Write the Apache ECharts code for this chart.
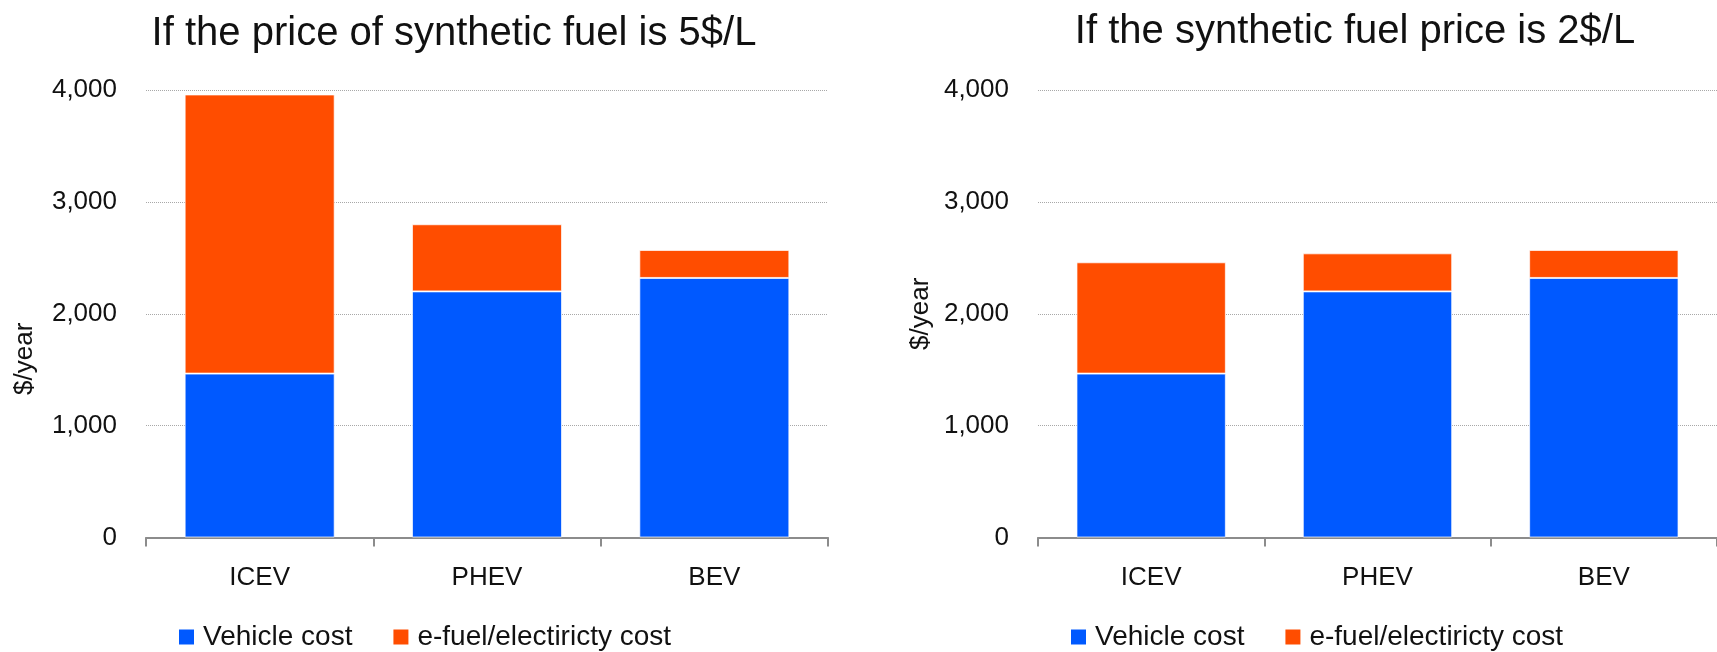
<!DOCTYPE html>
<html>
<head>
<meta charset="utf-8">
<script src="https://cdn.jsdelivr.net/npm/echarts@6/dist/echarts.min.js"></script>
<style>
  html, body { margin: 0; padding: 0; background: #fff; }
  #main { width: 1717px; height: 652px; }
</style>
</head>
<body>
<div id="main"></div>
<script>
  var categories = ['ICEV', 'PHEV', 'BEV']
  var seriesNames = ['Vehicle cost', 'e-fuel/electiricty cost']
  var titles = ['If the price of synthetic fuel is 5$/L', 'If the synthetic fuel price is 2$/L']
  // $/year
  var vehicleCost5 = [1465, 2200, 2320]
  var fuelCost5 = [2495, 600, 250]
  var vehicleCost2 = [1465, 2200, 2320]
  var fuelCost2 = [995, 340, 250]
  var yMin = 0
  var yMax = 4000
  var yStep = 1000

  var font = '"Liberation Sans", Arial, sans-serif'
  var txt = '#111'
  var blue = '#0059FF'
  var orange = '#FF4D00'

  var myChart = echarts.init(document.getElementById('main'))

  function xAx (idx) {
    return {
      type: 'category',
      gridIndex: idx,
      data: categories,
      axisLine: { lineStyle: { color: '#8c8c8c', width: 2 } },
      axisTick: { show: true, length: 9, lineStyle: { color: '#8c8c8c', width: 2 } },
      axisLabel: { color: txt, fontSize: 26, fontFamily: font, margin: 27 }
    }
  }
  function yAx (idx, gap, pad) {
    return {
      type: 'value',
      gridIndex: idx,
      min: yMin,
      max: yMax,
      interval: yStep,
      name: '$/year',
      nameLocation: 'middle',
      nameRotate: 90,
      nameGap: gap,
      nameTextStyle: { color: txt, fontSize: 26, fontFamily: font, padding: pad },
      axisLine: { show: false },
      axisTick: { show: false },
      axisLabel: { color: txt, fontSize: 26, fontFamily: font, margin: 29 },
      splitLine: { lineStyle: { color: '#a8a8a8', type: 'dotted', width: 1 } }
    }
  }
  function bar (name, data, idx, color) {
    return {
      name: name,
      type: 'bar',
      stack: 'total' + idx,
      xAxisIndex: idx,
      yAxisIndex: idx,
      barWidth: '66%',
      data: data,
      itemStyle: { color: color, borderColor: 'rgba(255,255,255,0.7)', borderWidth: 1 }
    }
  }
  function legend (left) {
    return {
      left: left,
      top: 623,
      padding: 0,
      itemWidth: 15,
      itemHeight: 15,
      itemGap: 41,
      icon: 'rect',
      itemStyle: { borderWidth: 0 },
      data: seriesNames,
      textStyle: { color: txt, fontSize: 28, fontFamily: font, padding: [0, 0, 0, 4] }
    }
  }

  myChart.setOption({
    animation: false,
    title: [{
      text: titles[0],
      left: 449,
      top: 9,
      textAlign: 'center',
      textStyle: { color: txt, fontSize: 40, fontWeight: 'normal', fontFamily: font }
    }, {
      text: titles[1],
      left: 1350,
      top: 7,
      textAlign: 'center',
      textStyle: { color: txt, fontSize: 40, fontWeight: 'normal', fontFamily: font }
    }],
    legend: [legend(179), legend(1071)],
    grid: [
      { left: 146, right: 889, top: 90, bottom: 114.5 },
      { left: 1038, right: -5, top: 90, bottom: 114.5 }
    ],
    xAxis: [xAx(0), xAx(1)],
    yAxis: [yAx(0, 108, [0, 90, 0, 0]), yAx(1, 104, 0)],
    series: [
      bar(seriesNames[0], vehicleCost5, 0, blue),
      bar(seriesNames[1], fuelCost5, 0, orange),
      bar(seriesNames[0], vehicleCost2, 1, blue),
      bar(seriesNames[1], fuelCost2, 1, orange)
    ]
  })
</script>
</body>
</html>
